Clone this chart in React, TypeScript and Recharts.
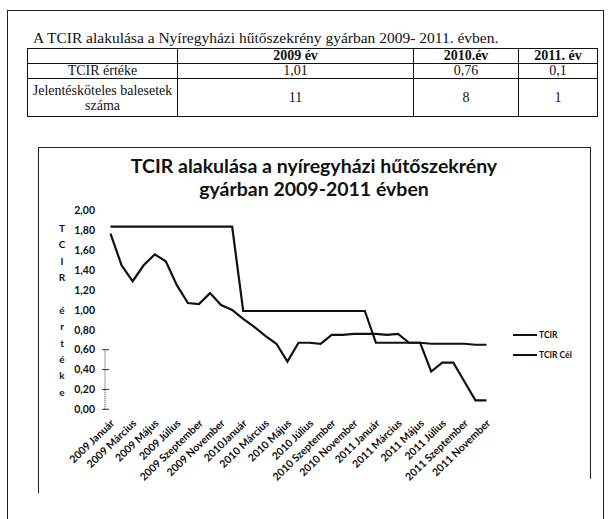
import React from 'react';
import { LineChart, Line, XAxis, YAxis, Legend } from 'recharts';

// ---- data ----
const months = [
  '2009 Január', '2009 Február', '2009 Március', '2009 Április', '2009 Május', '2009 Június',
  '2009 Július', '2009 Augusztus', '2009 Szeptember', '2009 Október', '2009 November', '2009 December',
  '2010Január', '2010 Február', '2010 Március', '2010 Április', '2010 Május', '2010 Június',
  '2010 Július', '2010 Augusztus', '2010 Szeptember', '2010 Október', '2010 November', '2010 December',
  '2011 Január', '2011 Február', '2011 Március', '2011 Április', '2011 Május', '2011 Június',
  '2011 Július', '2011 Augusztus', '2011 Szeptember', '2011 Október', '2011 November',
];
const tcir = [
  1.77, 1.45, 1.29, 1.45, 1.56, 1.49, 1.25, 1.07, 1.06, 1.17, 1.05, 1.0,
  0.91, 0.83, 0.74, 0.66, 0.48, 0.67, 0.67, 0.66, 0.75, 0.75, 0.76, 0.76,
  0.76, 0.75, 0.76, 0.67, 0.67, 0.38, 0.47, 0.47, 0.28, 0.09, 0.09,
];
const tcirCel = [
  1.84, 1.84, 1.84, 1.84, 1.84, 1.84, 1.84, 1.84, 1.84, 1.84, 1.84, 1.84,
  0.99, 0.99, 0.99, 0.99, 0.99, 0.99, 0.99, 0.99, 0.99, 0.99, 0.99, 0.99,
  0.67, 0.67, 0.67, 0.67, 0.67, 0.66, 0.66, 0.66, 0.66, 0.65, 0.65,
];
const yTicks = [0, 0.2, 0.4, 0.6, 0.8, 1.0, 1.2, 1.4, 1.6, 1.8, 2.0];

const tableTitle = 'A TCIR alakulása a Nyíregyházi hűtőszekrény gyárban 2009- 2011. évben.';
const tableYears = ['2009 év', '2010.év', '2011. év'];
const tableTcir = ['1,01', '0,76', '0,1'];
const tableAccidents = ['11', '8', '1'];

const chartTitle1 = 'TCIR alakulása a nyíregyházi hűtőszekrény';
const chartTitle2 = 'gyárban 2009-2011 évben';
const yLabel = 'TCIR értéke';

const data = months.map((m, i) => ({ month: m, tcir: tcir[i], cel: tcirCel[i] }));

// ---- layout ----
const CH_LEFT = 38;
const CH_TOP = 147;
const CH_W = 552;
const CH_H = 346;
const MARGIN = { top: 63.7, right: 98, bottom: 3.7, left: 27 };
const X_AXIS_H = 80;
const PLOT_H = CH_H - MARGIN.top - MARGIN.bottom - X_AXIS_H;
const STEP = PLOT_H / (yTicks.length - 1);

const FONT = 'Lato, "Open Sans", sans-serif';
const SERIF = '"Liberation Serif", "Times New Roman", serif';

const fmt = (v: number) => v.toFixed(2).replace('.', ',');

const YTick = (props: any) => {
  const { x, y, payload } = props;
  const v = payload.value as number;
  const k = Math.round(v * 10);
  const ax = x + 10;
  return (
    <g>
      <text x={x} y={y} dy="0.35em" textAnchor="end" fontSize={10.5} fontWeight={700} fill="#111" fontFamily={FONT}>
        {fmt(v)}
      </text>
      {k <= 6 && <line x1={ax - 3} x2={ax + 4} y1={y} y2={y} stroke="#333" strokeWidth={1} />}
      {k < 6 && (
        <line x1={ax} x2={ax} y1={y} y2={y - STEP} stroke="#333" strokeWidth={1} strokeDasharray="1 1" />
      )}
    </g>
  );
};

const XTick = (props: any) => {
  const { x, y, payload } = props;
  return (
    <text
      transform={`translate(${x + 2},${y + 12}) rotate(-44)`}
      textAnchor="end"
      dy="0.35em"
      fontSize={10.5}
      fontWeight={700}
      fill="#111"
      fontFamily={FONT}
    >
      {payload.value}
    </text>
  );
};

const renderLegend = (props: any) => (
  <div>
    {(props.payload || []).map((p: any) => (
      <div key={p.value} style={{ display: 'flex', alignItems: 'center', height: 20 }}>
        <span style={{ display: 'inline-block', width: 24, borderTop: '2px solid #111', marginRight: 2 }} />
        <span style={{ fontSize: 8.5, fontWeight: 700, fontFamily: FONT, color: '#111', whiteSpace: 'nowrap' }}>
          {p.value}
        </span>
      </div>
    ))}
  </div>
);

const cell: React.CSSProperties = {
  border: '1px solid #111',
  padding: 0,
  textAlign: 'center',
  verticalAlign: 'middle',
  lineHeight: '14px',
  whiteSpace: 'nowrap',
};

export default function App() {
  return (
    <div
      style={{
        position: 'absolute',
        left: 0,
        top: 0,
        width: 612,
        height: 519,
        overflow: 'hidden',
        background: '#fff',
        color: '#111',
      }}
    >
      {/* outer frame */}
      <div style={{ position: 'absolute', left: 7, top: 10, width: 597, height: 520, border: '1px solid #222', boxSizing: 'border-box' }} />

      {/* table title */}
      <div style={{ position: 'absolute', left: 33, top: 29, fontFamily: SERIF, fontSize: 15.5, whiteSpace: 'nowrap' }}>
        {tableTitle}
      </div>

      {/* table */}
      <table
        style={{
          position: 'absolute',
          left: 27,
          top: 48,
          width: 570,
          borderCollapse: 'collapse',
          fontFamily: SERIF,
          fontSize: 14,
          tableLayout: 'fixed',
        }}
      >
        <colgroup>
          <col style={{ width: 150 }} />
          <col style={{ width: 236 }} />
          <col style={{ width: 105 }} />
          <col style={{ width: 79 }} />
        </colgroup>
        <tbody>
          <tr style={{ height: 15 }}>
            <td style={cell}></td>
            {tableYears.map((t) => (
              <td key={t} style={{ ...cell, fontWeight: 700 }}>{t}</td>
            ))}
          </tr>
          <tr style={{ height: 15 }}>
            <td style={cell}>TCIR értéke</td>
            {tableTcir.map((t, i) => (
              <td key={i} style={cell}>{t}</td>
            ))}
          </tr>
          <tr style={{ height: 38 }}>
            <td style={{ ...cell, lineHeight: '15px' }}>
              Jelentésköteles balesetek
              <br />
              száma
            </td>
            {tableAccidents.map((t, i) => (
              <td key={i} style={cell}>{t}</td>
            ))}
          </tr>
        </tbody>
      </table>

      {/* chart box borders */}
      <div style={{ position: 'absolute', left: CH_LEFT, top: CH_TOP, width: 590 - CH_LEFT, height: 0, borderTop: '1px solid #222' }} />
      <div style={{ position: 'absolute', left: CH_LEFT, top: CH_TOP, width: 0, height: 493 - CH_TOP, borderLeft: '1px solid #222' }} />
      <div style={{ position: 'absolute', left: 590, top: CH_TOP, width: 0, height: 479 - CH_TOP, borderLeft: '1px solid #222' }} />

      {/* chart title */}
      <div
        style={{
          position: 'absolute',
          left: CH_LEFT,
          top: 153.5,
          width: CH_W,
          textAlign: 'center',
          fontFamily: FONT,
          fontWeight: 700,
          fontSize: 19.5,
          lineHeight: '23px',
          color: '#111',
        }}
      >
        {chartTitle1}
        <br />
        {chartTitle2}
      </div>

      {/* y axis title, stacked letters */}
      <div
        style={{
          position: 'absolute',
          left: 55,
          top: 219.8,
          width: 14,
          textAlign: 'center',
          fontFamily: FONT,
          fontWeight: 700,
          fontSize: 10,
          lineHeight: '16.4px',
          color: '#111',
        }}
      >
        {yLabel.split('').map((c, i) => (
          <div key={i}>{c === ' ' ? '\u00a0' : c}</div>
        ))}
      </div>

      <div style={{ position: 'absolute', left: CH_LEFT, top: CH_TOP }}>
        <LineChart width={CH_W} height={CH_H} data={data} margin={MARGIN}>
          <XAxis
            dataKey="month"
            interval={1}
            axisLine={false}
            tickLine={false}
            tickSize={0}
            tickMargin={0}
            height={X_AXIS_H}
            padding={{ left: 5.5, right: 5.5 }}
            tick={<XTick />}
          />
          <YAxis
            domain={[0, 2]}
            ticks={yTicks}
            width={40}
            axisLine={false}
            tickLine={false}
            tickSize={0}
            tickMargin={10}
            interval={0}
            tick={<YTick />}
          />
          <Legend
            layout="vertical"
            align="center"
            verticalAlign="middle"
            wrapperStyle={{ left: 475, top: 178, width: 70, height: 40 }}
            content={renderLegend}
          />
          <Line
            type="linear"
            dataKey="tcir"
            name="TCIR"
            stroke="#111"
            strokeWidth={2.2}
            dot={false}
            activeDot={false}
            isAnimationActive={false}
          />
          <Line
            type="linear"
            dataKey="cel"
            name="TCIR Cél"
            stroke="#111"
            strokeWidth={2.2}
            dot={false}
            activeDot={false}
            isAnimationActive={false}
          />
        </LineChart>
      </div>
    </div>
  );
}
